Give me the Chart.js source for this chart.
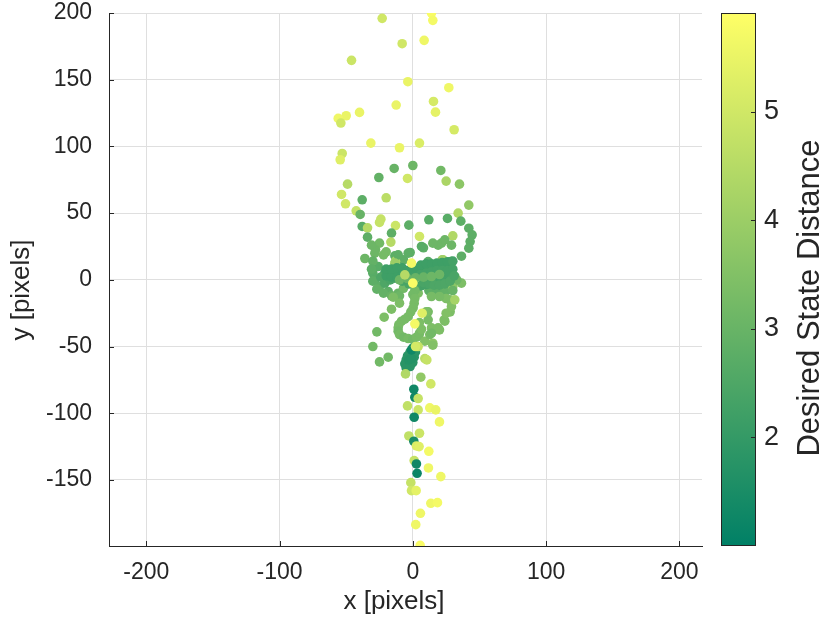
<!DOCTYPE html>
<html>
<head>
<meta charset="utf-8">
<script src="https://cdn.jsdelivr.net/npm/chart.js@4.4.1/dist/chart.umd.min.js"></script>
<style>
html, body { margin: 0; padding: 0; background: #fff; }
</style>
</head>
<body>
<canvas id="grafico" width="830" height="625"></canvas>
<script>
// ejes
const xTicks = [-200, -100, 0, 100, 200];
const yTicks = [-150, -100, -50, 0, 50, 100, 150, 200];
const cbTicks = [2, 3, 4, 5];
const xRange = [-228, 217];
const yRange = [-199.5, 200];
const distRange = [1.0, 5.91];

// puntos [x, y, distancia]
const puntosArriba = [
    [14, 200, 5.8], [15, 194.5, 5.7], [-23, 196, 5.0], [-8, 177, 5.0], [8.5, 179.5, 5.6],
    [-46, 164.5, 4.9], [-3.75, 148.5, 5.5], [27, 144, 5.6], [15.5, 133.7, 5.1], [17, 125.7, 5.4],
    [-12.5, 131, 5.5], [-40, 125.5, 5.5], [-50, 123, 5.5], [-56, 121, 5.6], [-54, 117.5, 5.0],
    [31, 112.5, 5.1], [-31.5, 102.5, 5.5], [5, 102.5, 5.2], [-10, 99, 5.5], [-53, 94.7, 4.9],
    [-54.5, 90, 5.3], [-14, 83.5, 3.0], [0, 85.7, 3.1], [-25.5, 76.7, 2.9], [21, 82, 3.2],
    [-4, 76, 5.0], [25, 74, 4.3], [35, 71.7, 3.7], [-49, 71.7, 4.5], [-53.5, 64, 5.0],
    [-38, 60, 2.8], [-20, 61.5, 4.6], [-50.5, 57, 5.0], [-42.5, 51.7, 4.8], [-39.5, 49, 3.0],
    [42, 56, 3.8], [34, 50, 4.4], [-24, 45.5, 4.8], [-25, 43, 4.8], [-3, 41, 2.8],
    [12, 45, 2.7], [26, 46, 2.7], [36, 44, 2.8], [-38, 40, 2.7], [-34, 39, 4.5],
    [-13, 40.7, 4.9], [42, 38.7, 2.8], [44.5, 33.7, 2.8], [43, 28.7, 2.8], [42, 23.7, 2.8],
    [36.5, 17.7, 2.8], [-16, 35, 2.8], [-34, 32, 2.8], [-16.5, 28.3, 4.5], [5, 32.5, 5.0],
    [8, 24, 2.8], [30, 33, 4.4], [29, 26, 3.1], [24, 30, 3.1], [21.5, 27.5, 3.1],
    [19, 26, 3.1], [-25, 27.5, 3.2], [-28, 22.5, 3.1], [-20, 21, 3.3], [-13.5, 18, 2.8],
    [-7, 15, 2.8], [-2, 20.5, 2.8], [-13, 14, 4.2], [15, 27.5, 3.1], [6.5, 25, 2.7],
    [-31, 26, 3.1], [-36, 16, 3.1]
];

const puntosAnillo = [
    [-28.5, 20, 3.1], [-22, 18.7, 3.3], [-11, 18.7, 2.8], [-3.5, 20, 2.8], [-26, 10, 2.7],
    [-30, 5, 2.7], [-28.5, 0, 2.7], [-25, -5, 2.8], [-18.5, -8.7, 2.8], [-11, -10, 3.0],
    [-7, -6.3, 3.2], [-21, -2.5, 2.5], [-13.5, 1.3, 2.4], [-13.5, 12.5, 4.0], [4, 8.75, 2.6],
    [11.5, 12.5, 2.8], [19, 11.2, 2.8], [22.7, 15, 4.2], [29, 13.7, 2.6], [31.5, 2.5, 2.8],
    [36.5, -2.5, 3.4], [30, -5, 3.7], [24, -1.3, 2.4], [4, -10, 3.4], [14, -11, 2.8],
    [21.5, -11, 2.8], [26.5, -7.5, 2.8], [33, 0, 3.1], [29, -5, 3.7], [11.5, 13.7, 2.7],
    [22, 15, 4.1], [28.5, 13.7, 2.6],
    [-30, 14, 2.9], [-31, 8, 2.8], [-30, -1, 2.8], [-27, -7, 2.9], [-22, -10, 2.9],
    [-16, -12, 3.0], [-10, -12, 3.1], [12, -8, 2.8], [18, -9, 2.8], [24, -9, 2.9], [30, -8, 3.0]
];

const puntosBanda = [
    [-21, 5, 2.2], [-17, 5.5, 2.2], [-13, 6, 2.2], [-9, 6, 2.2], [-5, 6, 2.3],
    [-1, 6, 2.3], [3, 7, 2.2], [7, 7.5, 2.2], [11, 8, 2.2], [15, 8.5, 2.2],
    [19, 9, 2.2], [23, 9.5, 2.2], [26.5, 10, 2.2], [28, 7, 2.3], [25, 4, 2.3],
    [21, 1, 2.3], [17, -1, 2.3], [14, -2.5, 2.3], [10, -3.5, 2.3], [6, -4.5, 2.3],
    [1.5, -5, 2.4], [-3, -3, 2.4], [-8, -1, 2.4], [-17, 0, 2.4], [-24, 2, 2.5],
    [-20, 3, 2.2], [-20, 8, 2.2], [-16, 2, 2.2], [-16, 8, 2.2], [-12, 2, 2.2],
    [-12, 9, 2.2], [-8, 3, 2.2], [-8, 9, 2.2], [-4, 7, 2.2],
    [6, 11, 2.2], [10, 12, 2.2], [14, 12, 2.2], [18, 12.5, 2.2], [22, 13, 2.2],
    [26, 13.5, 2.2], [30, 14, 2.3], [6, 4, 2.3], [10, 5, 2.3], [14, 6, 2.3],
    [18, 7, 2.3], [22, 7, 2.3], [26, 7, 2.3], [30, 8, 2.3],
    [8, -2, 2.4], [12, -3, 2.4], [16, -4, 2.5], [20, -4, 2.5], [24, -3, 2.5], [28, -1, 2.5], [31, 3, 2.4],
    [-10, 0, 3.1], [-4, 1, 3.0], [2, 1.5, 3.0], [8, 2, 3.0], [14, 2.5, 3.1], [20, 4, 3.1],
    [-6, 3.7, 4.5]
];

const puntosCurva = [
    [1.5, -8, 3.2], [0, -11, 3.2], [1.5, -14, 3.3], [1, -17.5, 3.3], [0.25, -21, 3.3],
    [-1.5, -24, 3.3], [-3.5, -27.5, 3.3], [-6, -29.5, 3.3], [-8.5, -31, 3.3], [-10.5, -33.5, 3.3],
    [-11, -36, 3.3], [-11, -38.5, 3.2], [-10, -41, 3.3], [-7, -43, 3.2], [-3.5, -44, 3.3],
    [0, -44.5, 3.2], [2.7, -43, 3.3], [4.5, -42, 3.3], [5, -40, 3.3], [6.5, -37, 3.4],
    [5, -32, 3.4], [11.5, -24, 3.3], [11.5, -30, 3.3], [14, -36, 3.4], [15, -47.5, 3.7],
    [9, -46, 3.5], [19, -36, 3.4], [24, -31, 3.4], [28, -24, 3.4], [29, -20, 3.5],
    [28, -15, 3.5], [25, -14, 3.4], [20, -12.5, 3.3], [14, -12.5, 3.3], [31.5, -15, 4.2],
    [12.7, -41, 3.3], [20, -37.5, 3.4], [23.5, -30, 3.4], [25, -25, 3.5], [10, -24, 3.4],
    [14, -40, 3.2], [-27, -39, 3.2], [-21.5, -28, 3.4], [-16, -22, 3.4], [-30, -50, 3.2],
    [-10, -17.5, 3.4], [-14.7, -13, 3.4], [7, -25, 5.3]
];

const puntosAbajo = [
    [-25, -61.5, 3.2], [-18.5, -58, 3.2],
    [0, -51, 1.8], [-2, -54, 1.8], [-4, -57, 1.8], [-5, -60, 1.8], [-6, -63, 1.8],
    [-5, -66, 1.8], [-2, -65, 1.8], [0, -62, 1.8], [1, -58, 1.8], [2, -54, 1.8],
    [-3, -60, 1.7], [-1, -59, 1.7], [-1, -52.5, 1.3],
    [4, -50, 4.8], [15, -49, 3.5], [9, -59, 4.6], [10.5, -60, 4.8], [-5.5, -70.5, 4.4],
    [6, -73, 3.8], [13.5, -78, 5.0], [0.75, -82, 1.3], [1.5, -88, 1.3], [4, -89, 4.8],
    [-4, -94.5, 4.7], [4, -97.5, 4.9], [12.7, -96, 5.6], [17.2, -97.5, 5.5], [20, -106.5, 5.6],
    [1, -103, 1.3], [-3, -117, 4.7], [5, -115, 4.9], [0.75, -121, 1.5], [2.7, -124.5, 5.2],
    [4.7, -125, 5.3], [12, -128.5, 5.7], [1, -135.5, 4.8], [2.7, -138, 1.3], [3.2, -145, 1.2],
    [11.7, -141, 5.6], [21, -147.5, 5.6], [-1.5, -152, 4.8], [-1, -158, 5.0], [2.5, -158, 5.4],
    [13.5, -167.5, 5.6], [18.5, -167, 5.7], [5.7, -175, 5.6], [2.2, -183.5, 5.6], [5.5, -199, 5.8]
];

const puntosCentro = [
    [-1, 12.5, 5.7], [0, -2.5, 5.8], [1.5, -33, 5.7], [2, -50, 5.1]
];

const todos = [].concat(puntosArriba, puntosAnillo, puntosBanda, puntosCurva, puntosAbajo, puntosCentro);

// mapa de color "summer"
function colorPara(d) {
    let t = (d - distRange[0]) / (distRange[1] - distRange[0]);
    t = Math.max(0, Math.min(1, t));
    const r = Math.round(255 * t);
    const g = Math.round(127.5 + 127.5 * t);
    return `rgb(${r}, ${g}, 102)`;
}

const FUENTE = "'Liberation Sans', Arial, Helvetica, sans-serif";
const GRIS = '#262626';

const barraColor = {
    id: 'barraColor',
    afterDraw(chart) {
        const ctx = chart.ctx;
        const s = chart.scales.cb;
        const area = chart.chartArea;
        const x0 = s.left + 19, x1 = x0 + 35;
        const grad = ctx.createLinearGradient(0, area.bottom, 0, area.top);
        grad.addColorStop(0, colorPara(distRange[0]));
        grad.addColorStop(1, colorPara(distRange[1]));
        ctx.save();
        ctx.fillStyle = grad;
        ctx.fillRect(x0, area.top, x1 - x0, area.bottom - area.top);
        ctx.strokeStyle = GRIS;
        ctx.lineWidth = 1;
        ctx.strokeRect(x0 + 0.5, area.top + 0.5, x1 - x0 - 1, area.bottom - area.top - 1);
        cbTicks.forEach(v => {
            const y = Math.round(s.getPixelForValue(v)) + 0.5;
            ctx.beginPath();
            ctx.moveTo(x1 - 5, y);
            ctx.lineTo(x1, y);
            ctx.stroke();
        });

        // marcas hacia adentro
        const sx = chart.scales.x, sy = chart.scales.y;
        xTicks.forEach(v => {
            const x = Math.round(sx.getPixelForValue(v)) + 0.5;
            ctx.beginPath();
            ctx.moveTo(x, area.bottom);
            ctx.lineTo(x, area.bottom - 5);
            ctx.stroke();
        });
        yTicks.forEach(v => {
            const y = Math.round(sy.getPixelForValue(v)) + 0.5;
            ctx.beginPath();
            ctx.moveTo(area.left, y);
            ctx.lineTo(area.left + 5, y);
            ctx.stroke();
        });

        // titulos
        ctx.fillStyle = GRIS;
        ctx.textAlign = 'center';
        ctx.textBaseline = 'middle';
        ctx.font = `26px ${FUENTE}`;
        ctx.fillText('x [pixels]', 394, 602);
        ctx.save();
        ctx.translate(22, 290);
        ctx.rotate(-Math.PI / 2);
        ctx.fillText('y [pixels]', 0, 0);
        ctx.restore();
        ctx.font = `31px ${FUENTE}`;
        ctx.translate(810, 298);
        ctx.rotate(-Math.PI / 2);
        ctx.fillText('Desired State Distance', 0, 0);
        ctx.restore();
    }
};

// sin relleno extra que empuje el area del grafico
function sinRelleno(s) {
    s.paddingTop = 0;
    s.paddingBottom = 0;
    s.paddingLeft = 0;
    s.paddingRight = 0;
}

const ctx = document.getElementById('grafico').getContext('2d');

new Chart(ctx, {
    type: 'scatter',
    data: {
        datasets: [{
            label: 'Desired State Distance',
            data: todos.map(p => ({ x: p[0], y: p[1], d: p[2] })),
            backgroundColor: c => c.raw ? colorPara(c.raw.d) : GRIS,
            borderWidth: 0,
            pointRadius: 4.8,
            pointHoverRadius: 4.8
        }]
    },
    options: {
        responsive: false,
        animation: false,
        devicePixelRatio: 1,
        layout: { padding: { top: 13, left: 0, right: 0, bottom: 0 } },
        plugins: {
            legend: { display: false },
            tooltip: { enabled: false }
        },
        scales: {
            x: {
                type: 'linear',
                position: 'bottom',
                min: xRange[0],
                max: xRange[1],
                afterBuildTicks: s => { s.ticks = xTicks.map(v => ({ value: v })); },
                afterFit: s => { s.height = 79; sinRelleno(s); },
                grid: { color: '#dfdfdf', drawTicks: false },
                border: { color: GRIS },
                ticks: { color: GRIS, font: { family: FUENTE, size: 23 }, padding: 13, maxRotation: 0 }
            },
            y: {
                type: 'linear',
                position: 'left',
                min: yRange[0],
                max: yRange[1],
                afterBuildTicks: s => { s.ticks = yTicks.map(v => ({ value: v })); },
                afterFit: s => { s.width = 109; sinRelleno(s); },
                grid: { color: '#dfdfdf', drawTicks: false },
                border: { color: GRIS },
                ticks: { color: GRIS, font: { family: FUENTE, size: 23 }, padding: 17 }
            },
            cb: {
                type: 'linear',
                axis: 'y',
                position: 'right',
                min: distRange[0],
                max: distRange[1],
                afterBuildTicks: s => { s.ticks = cbTicks.map(v => ({ value: v })); },
                afterFit: s => { s.width = 128; sinRelleno(s); },
                grid: { display: false, drawTicks: false },
                border: { display: false },
                ticks: { color: GRIS, font: { family: FUENTE, size: 27 }, padding: 62 }
            }
        }
    },
    plugins: [barraColor]
});
</script>
</body>
</html>
